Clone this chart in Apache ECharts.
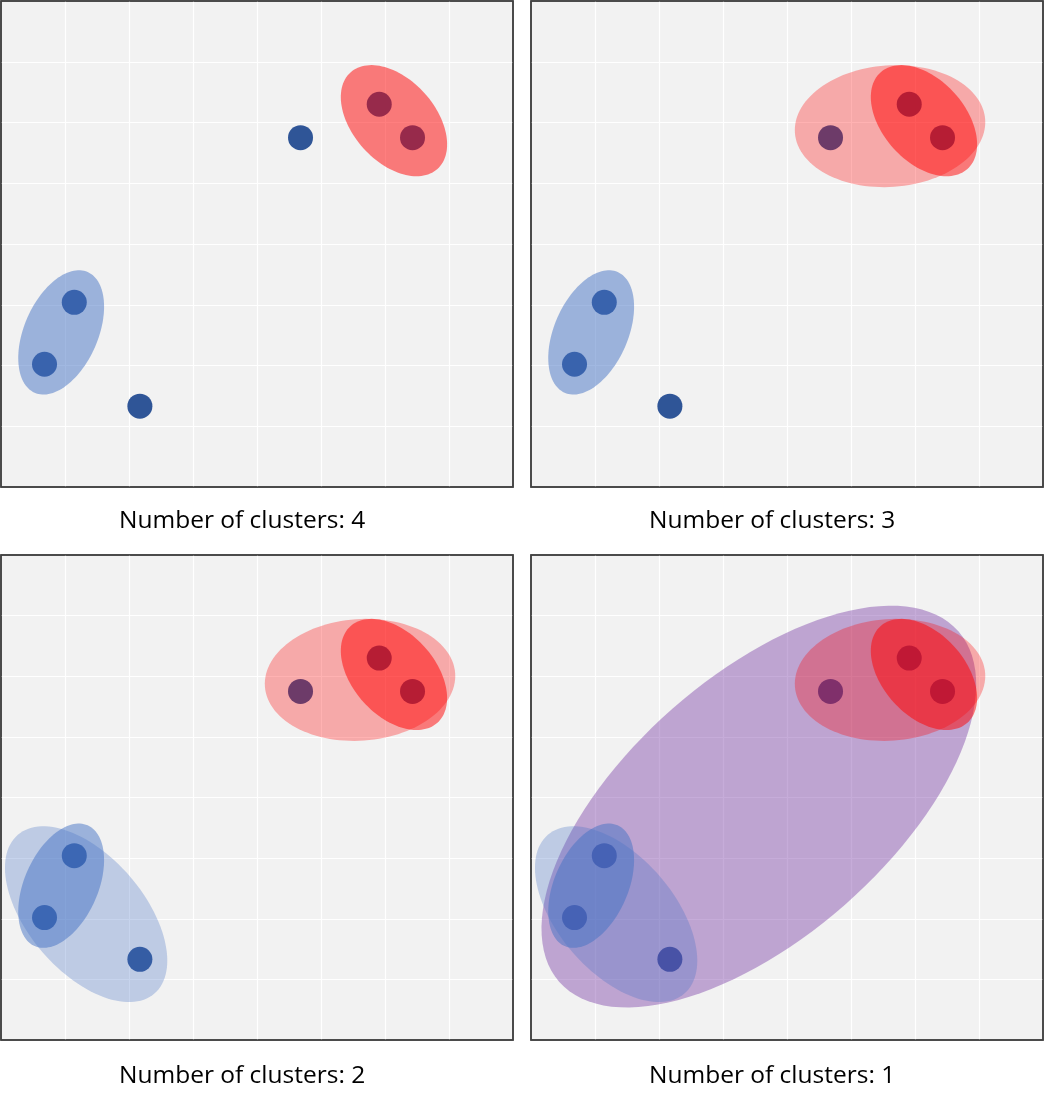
<!DOCTYPE html>
<html>
<head>
<meta charset="utf-8">
<script src="https://cdn.jsdelivr.net/npm/echarts@6/dist/echarts.min.js"></script>
<style>
html,body{margin:0;padding:0;background:#fff;}
#chart{width:1045px;height:1108px;}
</style>
</head>
<body>
<div id="chart"></div>
<script>
// ---- data ----
var pointX = [4.68, 5.91, 6.43, 1.145, 0.68, 2.17];
var pointY = [5.75, 6.30, 5.75, 3.04, 2.02, 1.33];

// ellipses: centre (data), semi-axes (x-axis units), angle (deg, counter-clockwise)
var ellipseNames  = ['purple', 'lightBlue', 'lightRed', 'blue', 'red'];
var ellipseCX     = [3.56, 1.33, 5.61, 0.94, 6.14];
var ellipseCY     = [3.85, 2.075, 5.94, 2.545, 6.03];
var ellipseA      = [4.15, 1.636, 1.49, 1.03, 1.015];
var ellipseB      = [2.04, 0.904, 0.95, 0.576, 0.643];
var ellipseAngle  = [41.3, -49.3, 4, 66.3, -48];
var ellipseColors = ['rgba(112,48,160,0.4)', 'rgba(68,114,196,0.3)', 'rgba(255,0,0,0.3)', 'rgba(68,114,196,0.5)', 'rgba(255,0,0,0.5)'];

// which ellipses appear in each panel (by index, drawn in this order)
var panelEllipses = [[3, 4], [2, 3, 4], [1, 2, 3, 4], [0, 1, 2, 3, 4]];
var panelLabels = ['Number of clusters: 4', 'Number of clusters: 3', 'Number of clusters: 2', 'Number of clusters: 1'];

var axisTicks = [0, 8, 1]; // min, max, interval

// ---- layout ----
var gridBoxes = [
  {left: 1, top: 1, width: 512, height: 486},
  {left: 531, top: 1, width: 512, height: 486},
  {left: 1, top: 555, width: 512, height: 485},
  {left: 531, top: 555, width: 512, height: 485}
];
var labelPos = [[119, 521], [649, 521], [119, 1076], [649, 1076]];

var grids = [], xAxes = [], yAxes = [], series = [], graphics = [];
gridBoxes.forEach(function (g, i) {
  grids.push({
    left: g.left, top: g.top, width: g.width, height: g.height,
    show: true, backgroundColor: '#f2f2f2', borderColor: '#404040', borderWidth: 1.5,
    containLabel: false
  });
  var ax = {
    gridIndex: i, type: 'value', min: axisTicks[0], max: axisTicks[1], interval: axisTicks[2],
    axisLine: {show: false}, axisTick: {show: false}, axisLabel: {show: false},
    splitLine: {show: true, showMinLine: false, showMaxLine: false, lineStyle: {color: '#ffffff', width: 1.2}}
  };
  xAxes.push(Object.assign({}, ax));
  yAxes.push(Object.assign({}, ax));

  series.push({
    type: 'scatter', xAxisIndex: i, yAxisIndex: i, z: 2,
    symbol: 'circle', symbolSize: 25,
    itemStyle: {color: '#2f5597', opacity: 1},
    emphasis: {disabled: true},
    data: pointX.map(function (x, k) { return [x, pointY[k]]; })
  });

  var edata = panelEllipses[i].map(function (e) {
    return [ellipseCX[e], ellipseCY[e], ellipseA[e], ellipseB[e], ellipseAngle[e], e];
  });
  series.push({
    type: 'custom', xAxisIndex: i, yAxisIndex: i, z: 3,
    encode: {x: 0, y: 1},
    silent: true,
    data: edata,
    renderItem: function (params, api) {
      var c = api.coord([api.value(0), api.value(1)]);
      var unit = api.size([1, 0])[0];
      var a = api.value(2) * unit, b = api.value(3) * unit;
      var phi = api.value(4) * Math.PI / 180;
      var idx = api.value(5);
      var pts = [];
      var n = 120;
      for (var k = 0; k < n; k++) {
        var t = 2 * Math.PI * k / n;
        var ex = a * Math.cos(t), ey = b * Math.sin(t);
        pts.push([c[0] + ex * Math.cos(phi) - ey * Math.sin(phi),
                  c[1] - (ex * Math.sin(phi) + ey * Math.cos(phi))]);
      }
      return {type: 'polygon', shape: {points: pts}, style: {fill: ellipseColors[idx], stroke: null}};
    }
  });

  graphics.push({
    type: 'rect', z: 100, silent: true,
    shape: {x: g.left, y: g.top, width: g.width, height: g.height},
    style: {fill: null, stroke: '#404040', lineWidth: 1.5}
  });
  graphics.push({
    type: 'text', x: labelPos[i][0], y: labelPos[i][1],
    style: {text: panelLabels[i], fill: '#000', font: '24.5px "Open Sans"', textAlign: 'left', textVerticalAlign: 'middle'}
  });
});

var chart = echarts.init(document.getElementById('chart'), null, {renderer: 'canvas'});
chart.setOption({
  animation: false,
  grid: grids, xAxis: xAxes, yAxis: yAxes, series: series, graphic: graphics
});
</script>
</body>
</html>
